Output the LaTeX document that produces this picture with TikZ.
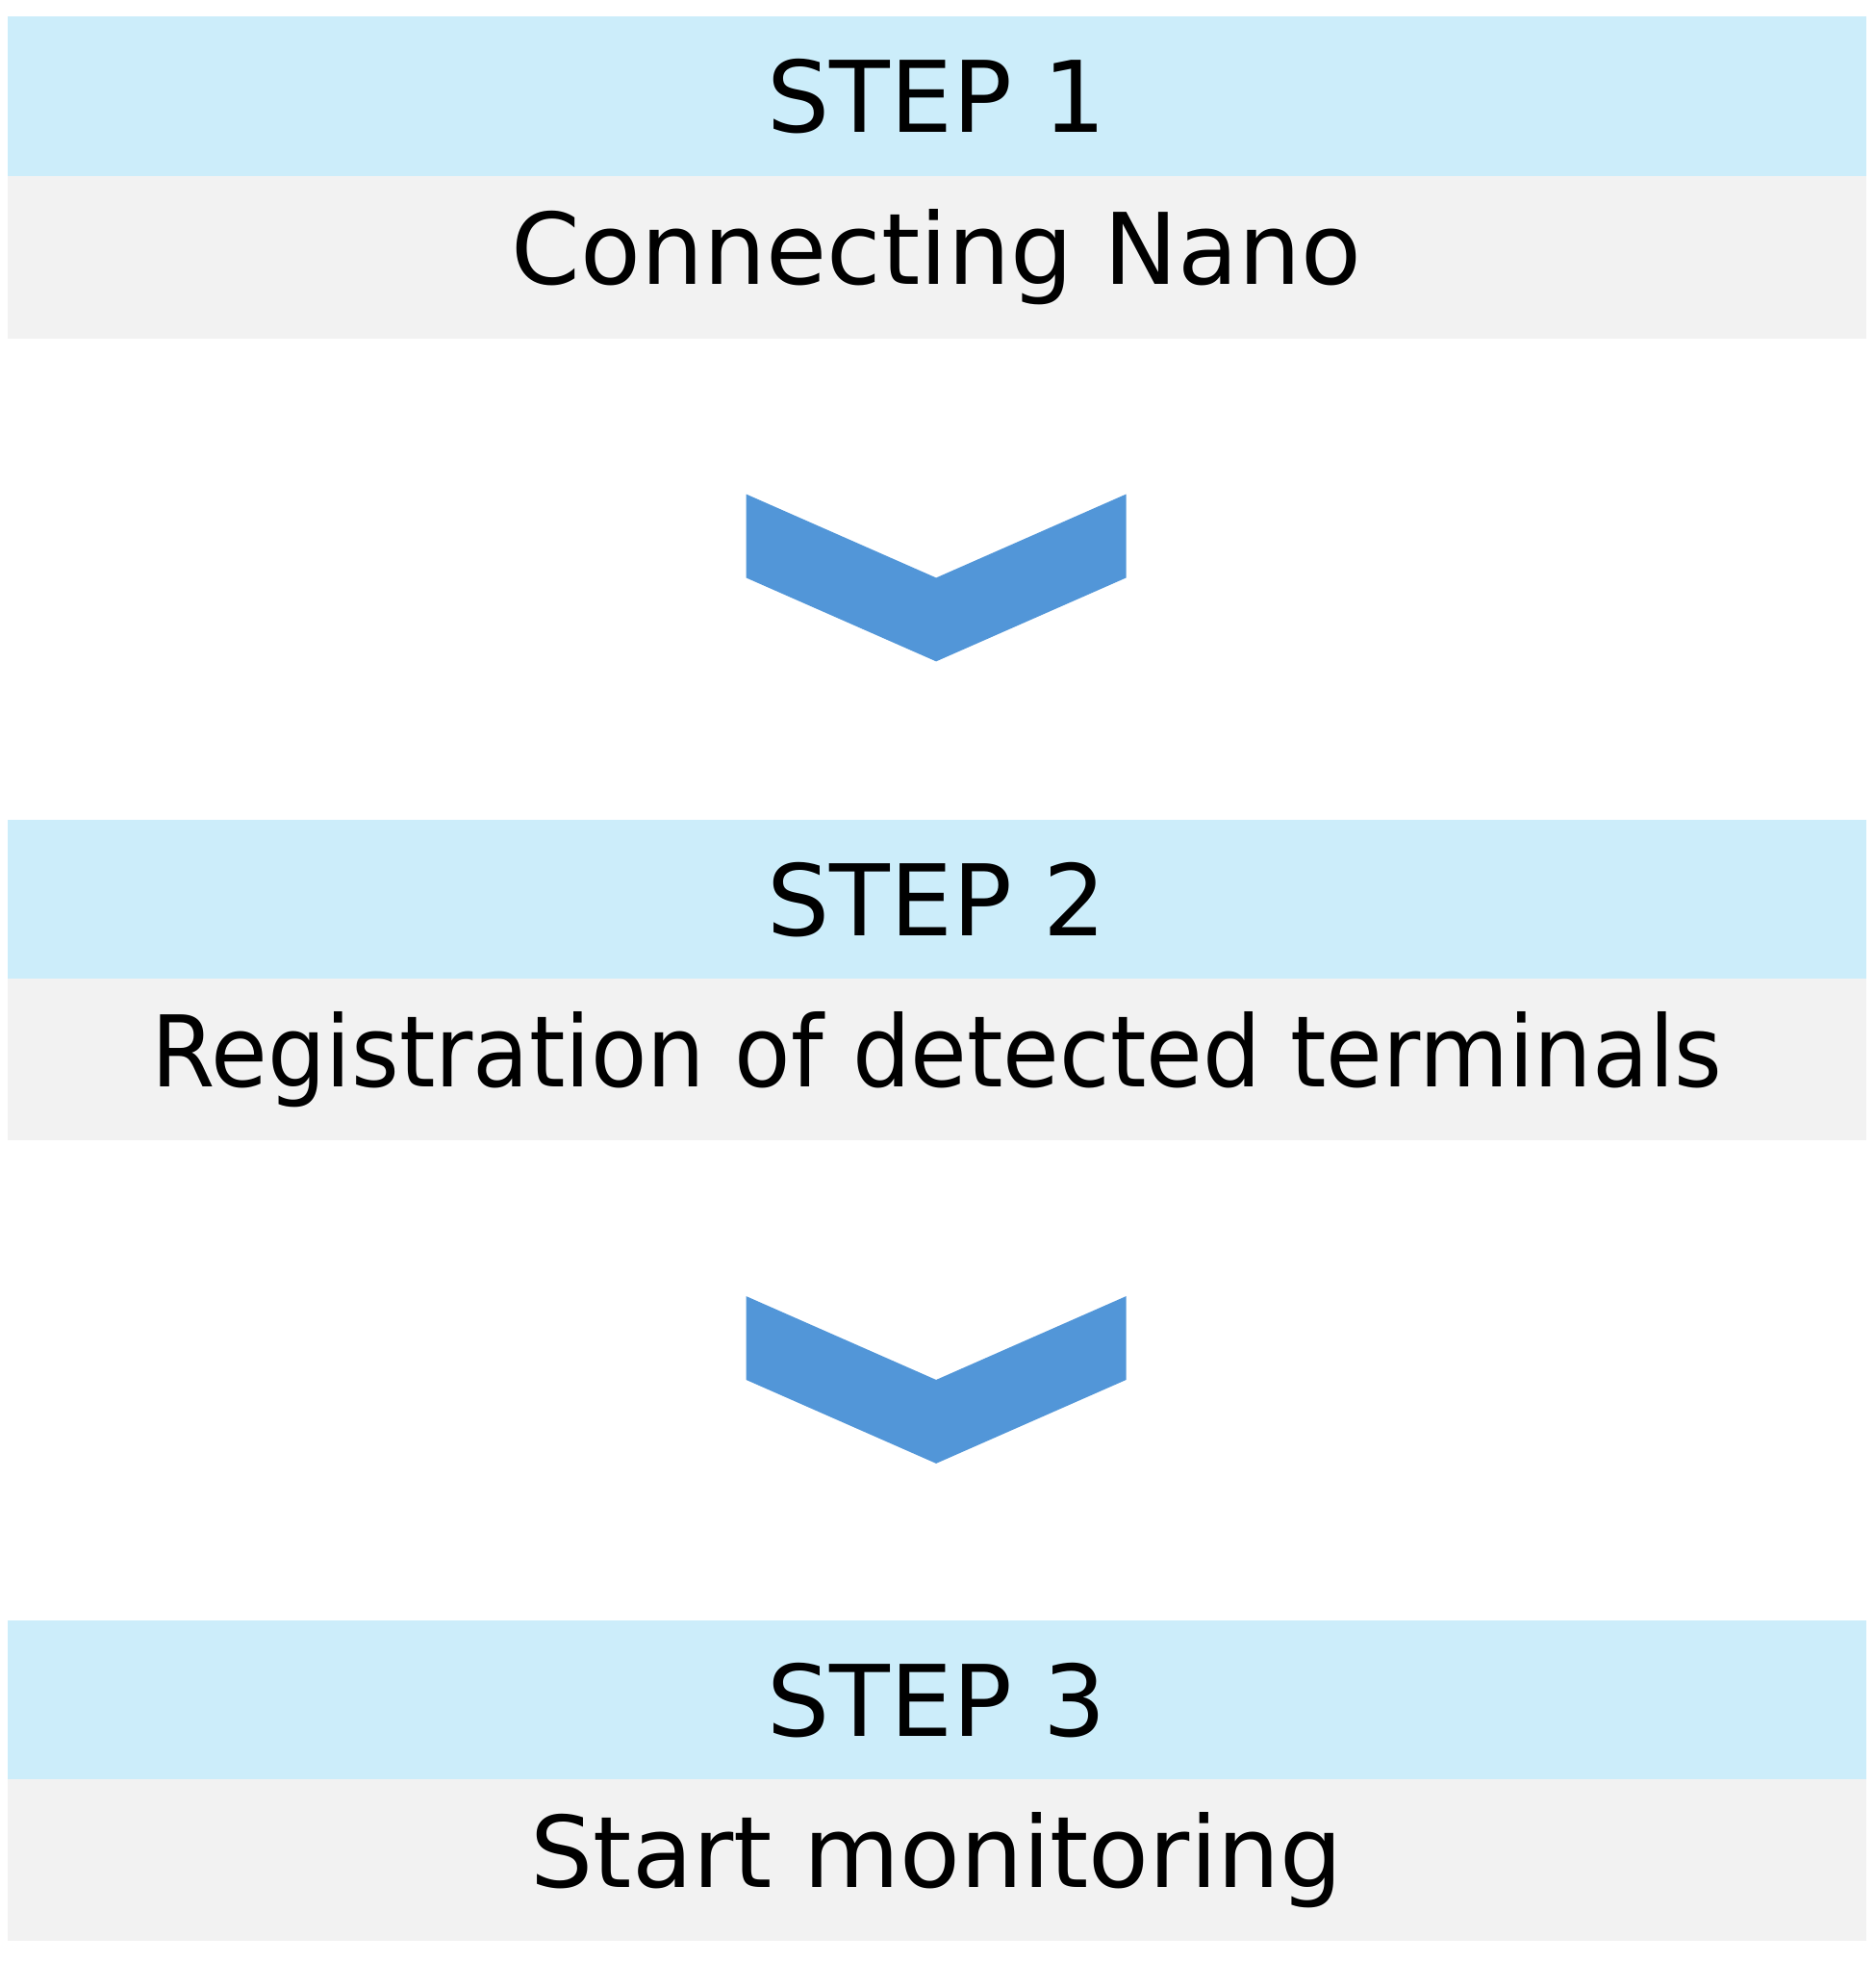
\documentclass[tikz,border=0pt]{standalone}
\usepackage{fontspec}
\setmainfont{DejaVu Sans}
\begin{document}
\begin{tikzpicture}[x=1pt,y=-1pt,
  hd/.style={fill=hdc,draw=none,minimum width=1467pt,minimum height=126pt,inner sep=0pt,font=\fontsize{78}{90}\selectfont},
  bd/.style={fill=bdc,draw=none,minimum width=1467pt,minimum height=128pt,inner sep=0pt,font=\fontsize{78}{90}\selectfont},
  chev/.style={fill=chc,draw=none}]
\definecolor{hdc}{HTML}{CCEDFA}
\definecolor{bdc}{HTML}{F2F2F2}
\definecolor{chc}{HTML}{5296D8}
\useasboundingbox (0,0) rectangle (1480,1569);
\node[hd] (h1) at (739.5,76) {STEP 1};
\node[bd] (b1) at (739.5,203) {Connecting Nano};
\node[hd] (h2) at (739.5,710) {STEP 2};
\node[bd] (b2) at (739.5,836) {\scalebox{0.93}[1]{Registration of detected terminals}};
\node[hd] (h3) at (739.5,1342) {STEP 3};
\node[bd] (b3) at (739.5,1468) {Start monitoring};
\foreach \t in {390,1023}{
  \fill[chc] (589,\t) -- (739,\t+66) -- (889,\t) -- (889,\t+66) -- (739,\t+132) -- (589,\t+66) -- cycle;
}
\end{tikzpicture}
\end{document}
